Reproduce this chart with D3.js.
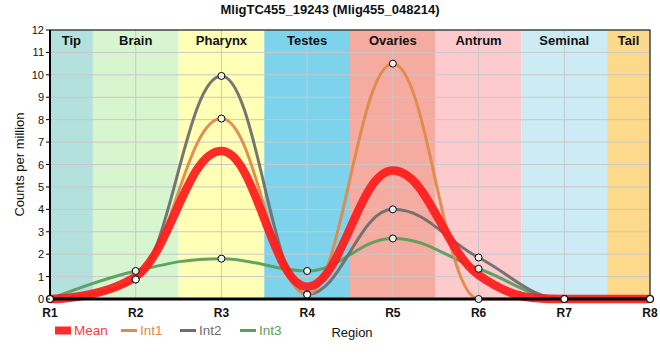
<!DOCTYPE html>
<html><head><meta charset="utf-8">
<script src="https://cdn.jsdelivr.net/npm/d3@7"></script>
<style>body{margin:0;background:#fff;font-family:"Liberation Sans",Arial,sans-serif}</style>
</head><body><svg id="c" width="660" height="360"></svg>
<script>
const title = "MligTC455_19243 (Mlig455_048214)";
const regions = ["R1","R2","R3","R4","R5","R6","R7","R8"];
const mean = [0, 1.0, 6.6, 0.55, 5.73, 1.07, 0, 0];
const int1 = [0, 0.87, 8.05, 0.2, 10.5, 0, 0, 0];
const int2 = [0, 0.87, 9.95, 0.2, 4.0, 1.85, 0, 0];
const int3 = [0, 1.25, 1.8, 1.25, 2.7, 1.35, 0, 0];
const bandNames = ["Tip","Brain","Pharynx","Testes","Ovaries","Antrum","Seminal","Tail"];
const bandStart = [0, 0.5, 1.5, 2.5, 3.5, 4.5, 5.5, 6.5];
const bandEnd = [0.5, 1.5, 2.5, 3.5, 4.5, 5.5, 6.5, 7];
const bandColors = ["#b3e1dd","#d7f6d0","#ffffb6","#7dd3eb","#f5ab9f","#fdcace","#cdebf5","#fdd98b"];
const yTicks = d3.range(0, 13);

const svg = d3.select("#c");
const L = 50, R = 650, T = 30, B = 299;
const x = d3.scaleLinear().domain([0, 7]).range([L, R]);
const y = d3.scaleLinear().domain([0, 12]).range([B, T]);

svg.append("text").attr("x", 330).attr("y", 14).attr("text-anchor","middle")
  .attr("font-weight","bold").attr("font-size", 13).attr("fill","#111").text(title);

// bands
svg.selectAll("rect.band").data(bandNames).enter().append("rect")
  .attr("x", (d,i)=>x(bandStart[i])).attr("y", T)
  .attr("width", (d,i)=>x(bandEnd[i])-x(bandStart[i])).attr("height", B-T)
  .attr("fill", (d,i)=>bandColors[i]);

// grid
svg.selectAll("line.hg").data(yTicks).enter().append("line")
  .attr("x1", L).attr("x2", R).attr("y1", d=>y(d)).attr("y2", d=>y(d))
  .attr("stroke","#c8c8c8").attr("stroke-width",1);
svg.selectAll("line.vg").data(regions).enter().append("line")
  .attr("x1",(d,i)=>x(i)).attr("x2",(d,i)=>x(i)).attr("y1",T).attr("y2",B)
  .attr("stroke","#c8c8c8").attr("stroke-width",1);

// band labels
svg.selectAll("text.band").data(bandNames).enter().append("text")
  .attr("x",(d,i)=>(x(bandStart[i])+x(bandEnd[i]))/2).attr("y", 45)
  .attr("text-anchor","middle").attr("font-weight","bold").attr("font-size",13)
  .attr("fill","#111").text(d=>d);

// Highcharts-like spline
function spline(vals){
  const pts = vals.map((v,i)=>({x:x(i), y:y(v)}));
  const sm = 1.5, den = 2.5;
  for(let i=1;i<pts.length-1;i++){
    const p=pts[i], a=pts[i-1], n=pts[i+1];
    let lx=(sm*p.x+a.x)/den, ly=(sm*p.y+a.y)/den, rx=(sm*p.x+n.x)/den, ry=(sm*p.y+n.y)/den;
    if(rx!==lx){const c=((ry-ly)*(rx-p.x))/(rx-lx)+p.y-ry; ly+=c; ry+=c;}
    if(ly>a.y&&ly>p.y){ly=Math.max(a.y,p.y);ry=2*p.y-ly;}
    else if(ly<a.y&&ly<p.y){ly=Math.min(a.y,p.y);ry=2*p.y-ly;}
    if(ry>n.y&&ry>p.y){ry=Math.max(n.y,p.y);ly=2*p.y-ry;}
    else if(ry<n.y&&ry<p.y){ry=Math.min(n.y,p.y);ly=2*p.y-ry;}
    p.lx=lx;p.ly=ly;p.rx=rx;p.ry=ry;
  }
  const path=d3.path();
  path.moveTo(pts[0].x,pts[0].y);
  for(let i=1;i<pts.length;i++){
    const a=pts[i-1],p=pts[i];
    path.bezierCurveTo(a.rx??a.x,a.ry??a.y,p.lx??p.x,p.ly??p.y,p.x,p.y);
  }
  return path.toString();
}

const series = [
  {name:"Int3", vals:int3, color:"#5a9e5e", w:3, markers:true},
  {name:"Int2", vals:int2, color:"#6e6e6e", w:3, markers:true},
  {name:"Int1", vals:int1, color:"#e0894a", w:3, markers:true},
  {name:"Mean", vals:mean, color:"#ff1a1a", w:8.5, markers:false}
];
series.forEach(s=>{
  svg.append("path").attr("d", spline(s.vals)).attr("fill","none")
    .attr("stroke", s.color).attr("stroke-width", s.w).attr("stroke-opacity", s.name==="Mean"?0.92:0.95)
    .attr("stroke-linejoin","round").attr("stroke-linecap","round");
});

// axes lines
svg.append("rect").attr("x",L).attr("y",T).attr("width",R-L).attr("height",B-T)
  .attr("fill","none").attr("stroke","#000").attr("stroke-width",1);
svg.append("line").attr("x1",L).attr("x2",L).attr("y1",T).attr("y2",B+1).attr("stroke","#000").attr("stroke-width",2);
svg.append("line").attr("x1",L-1).attr("x2",R).attr("y1",B).attr("y2",B).attr("stroke","#000").attr("stroke-width",3);

// markers
series.filter(s=>s.markers).forEach(s=>{
  svg.selectAll(null).data(s.vals).enter().append("circle")
    .attr("cx",(d,i)=>x(i)).attr("cy",d=>y(d)).attr("r",3.5)
    .attr("fill","#fff").attr("fill-opacity",0.85).attr("stroke","#000").attr("stroke-width",1);
});

// y ticks
svg.selectAll("text.yt").data(yTicks).enter().append("text")
  .attr("x", L-6).attr("y", d=>y(d)+4).attr("text-anchor","end")
  .attr("font-size",11).attr("fill","#111").text(d=>d);
svg.selectAll("line.ytk").data(yTicks).enter().append("line")
  .attr("x1",L-4).attr("x2",L).attr("y1",d=>y(d)).attr("y2",d=>y(d)).attr("stroke","#000");
svg.append("text").attr("transform",`translate(24,${(T+B)/2}) rotate(-90)`)
  .attr("text-anchor","middle").attr("font-size",13).attr("fill","#111").text("Counts per million");

// x labels
svg.selectAll("text.xt").data(regions).enter().append("text")
  .attr("x",(d,i)=>x(i)).attr("y",317).attr("text-anchor","middle")
  .attr("font-weight","bold").attr("font-size",12).attr("fill","#111").text(d=>d);
svg.append("text").attr("x",352).attr("y",337).attr("text-anchor","middle")
  .attr("font-size",13).attr("fill","#111").text("Region");

// legend
const leg = [
  {name:"Mean", color:"#ff2a2a", x:55, w:8, tc:"#ff3a3a"},
  {name:"Int1", color:"#e0894a", x:121, w:3, tc:"#e0894a"},
  {name:"Int2", color:"#6e6e6e", x:180, w:3, tc:"#6e6e6e"},
  {name:"Int3", color:"#5a9e5e", x:240, w:3, tc:"#5a9e5e"}
];
leg.forEach(l=>{
  svg.append("line").attr("x1",l.x).attr("x2",l.x+16).attr("y1",330.5).attr("y2",330.5)
    .attr("stroke",l.color).attr("stroke-width",l.w);
  svg.append("text").attr("x",l.x+19).attr("y",335).attr("font-size",13.5).attr("fill",l.tc).text(l.name);
});
</script></body></html>
